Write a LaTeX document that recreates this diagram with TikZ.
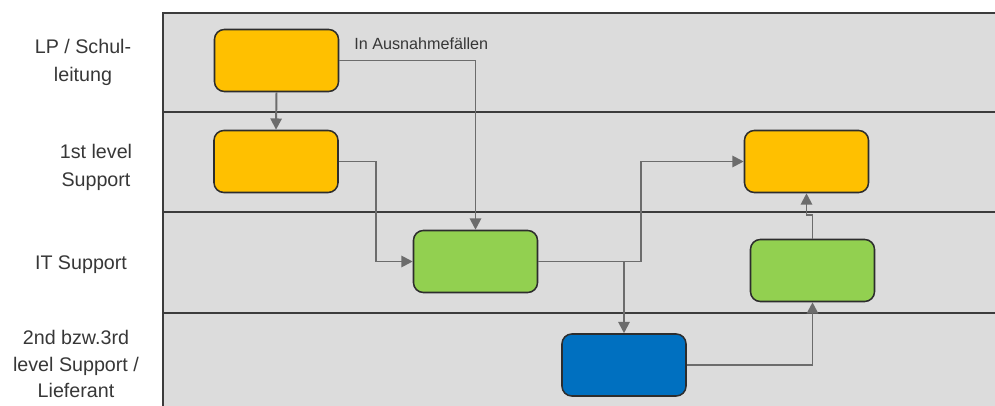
\documentclass[tikz,border=0pt]{standalone}
\usepackage{fontspec}
\setmainfont{Liberation Sans}
\usetikzlibrary{arrows.meta,positioning}
\usepackage{xcolor}
\definecolor{lanefill}{RGB}{220,220,220}
\definecolor{laneline}{RGB}{60,60,60}
\definecolor{arrowgray}{RGB}{108,108,108}
\definecolor{boxline}{RGB}{45,45,45}
\definecolor{textgray}{RGB}{55,55,55}
\definecolor{lpcol}{RGB}{255,192,0}
\definecolor{itcol}{RGB}{146,208,80}
\definecolor{levelcol}{RGB}{0,112,192}

\begin{document}
\begin{tikzpicture}[
  x=0.025cm, y=-0.025cm,
  every node/.style={font=\fontsize{14}{20}\selectfont, text=textgray},
  box/.style={draw=boxline, line width=1.1pt, rounded corners=7pt, minimum width=3.1cm, minimum height=1.55cm, inner sep=0pt},
  lpbox/.style={box, fill=lpcol},
  itbox/.style={box, fill=itcol},
  levelbox/.style={box, fill=levelcol},
  lanetitle/.style={align=center, inner sep=0pt},
  lane/.style={draw=laneline, line width=1.5pt},
  arr/.style={-{Triangle[length=8pt,width=8pt]}, draw=arrowgray, line width=1.4pt},
]
  \useasboundingbox (0,0) rectangle (995,406);
  % swimlanes
  \fill[lanefill] (163,13) rectangle (995,406);
  \draw[lane] (995,13) -- (163,13) -- (163,406);
  \foreach \ly in {112,212,313}
    \draw[lane] (163,\ly) -- (995,\ly);
  % lane titles
  \node[lanetitle] (tlp)  at (83,62)   {LP / Schul-\\leitung};
  \node[lanetitle] (tfst) at (96,167)  {1st level\\Support};
  \node[lanetitle] (tit)  at (81,265)  {IT Support};
  \node[lanetitle, font=\fontsize{14}{19}\selectfont] (tsec) at (76,364) {2nd bzw.3rd\\level Support /\\Lieferant};
  % process boxes
  \node[lpbox]    (lp)   at (276.5,60.5)  {};
  \node[lpbox]    (fst)  at (276,161.5)   {};
  \node[itbox]    (it1)  at (475.5,261.5) {};
  \node[levelbox] (sec)  at (624,365)     {};
  \node[lpbox]    (fst2) at (806.5,161.5) {};
  \node[itbox]    (it2)  at (812.5,270.5) {};
  \node[anchor=west, inner sep=0pt, font=\fontsize{11.5}{14}\selectfont] (ausn) at (354,44) {In Ausnahmefällen};
  % Arrows
  \draw[arr] (lp.south) -- (fst.north);
  \draw[arr] (lp.east) -| (it1.north);
  \draw[arr] (fst.east) -- ++(37,0) |- (it1.west);
  \draw[arr] (it1.east) -- ++(103,0) |- (fst2.west);
  \draw[arr] (it1.east -| sec.north) -- (sec.north);
  \draw[arr] (sec.east) -| (it2.south);
  \draw[arr] (it2.north) -- ++(0,-24) -| (fst2.south);
\end{tikzpicture}
\end{document}
